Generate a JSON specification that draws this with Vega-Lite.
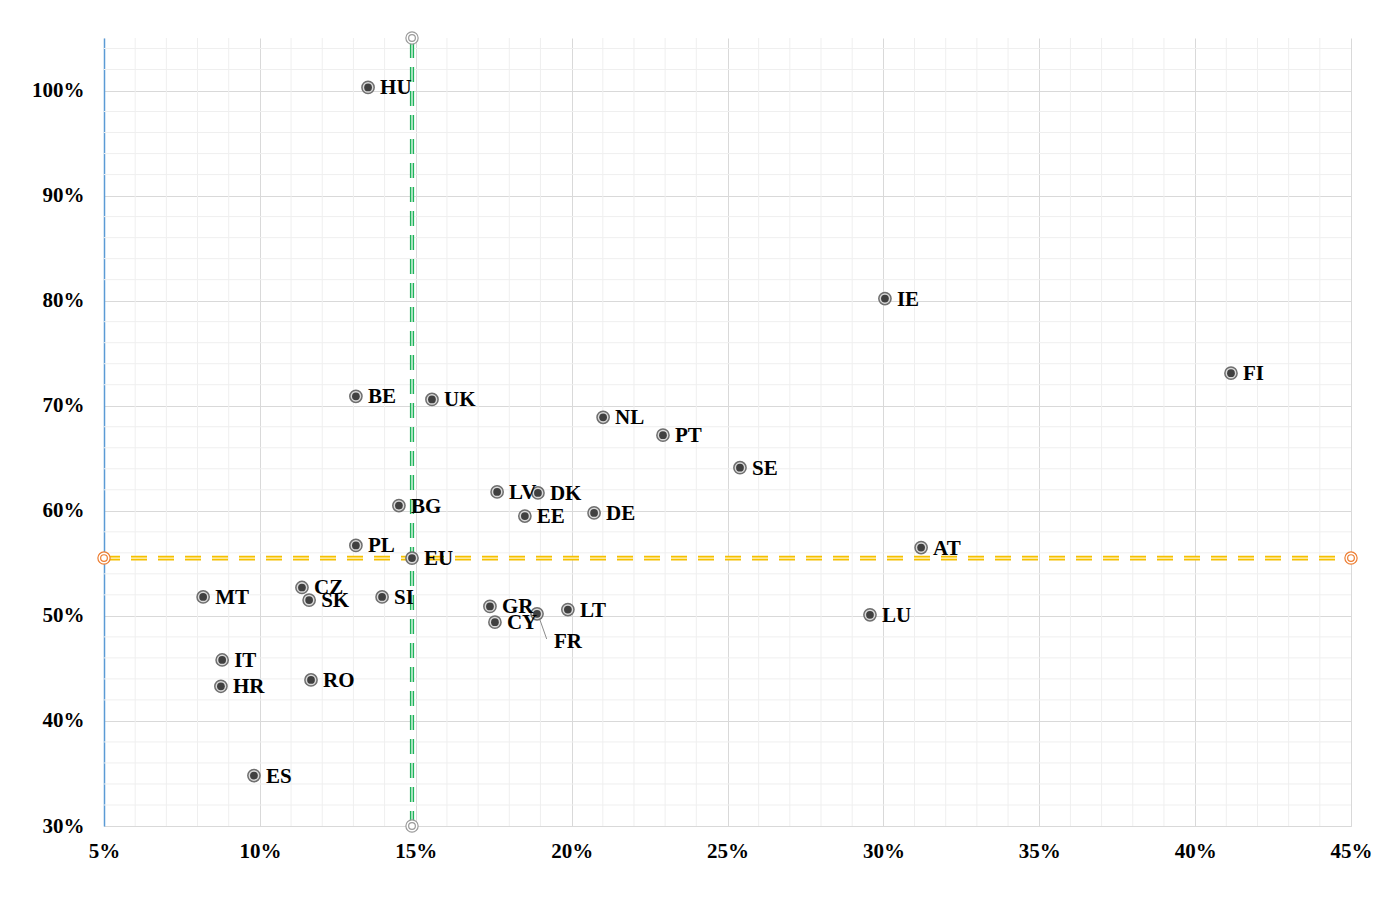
{
  "$schema": "https://vega.github.io/schema/vega-lite/v6.json",
  "width": 1247,
  "height": 788,
  "autosize": "none",
  "padding": {"left": 104, "top": 38, "right": 35, "bottom": 82},
  "background": "white",
  "datasets": {
    "countries": [
      {"c": "HU", "x": 13.47, "y": 100.3},
      {"c": "IE", "x": 30.05, "y": 80.2},
      {"c": "FI", "x": 41.15, "y": 73.1},
      {"c": "BE", "x": 13.08, "y": 70.9},
      {"c": "UK", "x": 15.52, "y": 70.6},
      {"c": "NL", "x": 21.01, "y": 68.9},
      {"c": "PT", "x": 22.93, "y": 67.2},
      {"c": "SE", "x": 25.4, "y": 64.1},
      {"c": "LV", "x": 17.61, "y": 61.8},
      {"c": "DK", "x": 18.92, "y": 61.7},
      {"c": "BG", "x": 14.46, "y": 60.5},
      {"c": "EE", "x": 18.5, "y": 59.5},
      {"c": "DE", "x": 20.72, "y": 59.8},
      {"c": "PL", "x": 13.08, "y": 56.7},
      {"c": "EU", "x": 14.88, "y": 55.5},
      {"c": "AT", "x": 31.21, "y": 56.5},
      {"c": "CZ", "x": 11.35, "y": 52.7},
      {"c": "MT", "x": 8.18, "y": 51.8},
      {"c": "SK", "x": 11.58, "y": 51.5},
      {"c": "SI", "x": 13.92, "y": 51.8},
      {"c": "GR", "x": 17.38, "y": 50.9},
      {"c": "FR", "x": 18.89, "y": 50.2},
      {"c": "CY", "x": 17.54, "y": 49.4},
      {"c": "LT", "x": 19.88, "y": 50.6},
      {"c": "LU", "x": 29.57, "y": 50.1},
      {"c": "IT", "x": 8.79, "y": 45.8},
      {"c": "HR", "x": 8.75, "y": 43.3},
      {"c": "RO", "x": 11.64, "y": 43.9},
      {"c": "ES", "x": 9.81, "y": 34.8}
    ],
    "xminor": [
      {"v": 6}, {"v": 7}, {"v": 8}, {"v": 9}, {"v": 11}, {"v": 12}, {"v": 13}, {"v": 14},
      {"v": 16}, {"v": 17}, {"v": 18}, {"v": 19}, {"v": 21}, {"v": 22}, {"v": 23}, {"v": 24},
      {"v": 26}, {"v": 27}, {"v": 28}, {"v": 29}, {"v": 31}, {"v": 32}, {"v": 33}, {"v": 34},
      {"v": 36}, {"v": 37}, {"v": 38}, {"v": 39}, {"v": 41}, {"v": 42}, {"v": 43}, {"v": 44}
    ],
    "yminor": [
      {"v": 32}, {"v": 34}, {"v": 36}, {"v": 38}, {"v": 42}, {"v": 44}, {"v": 46}, {"v": 48},
      {"v": 52}, {"v": 54}, {"v": 56}, {"v": 58}, {"v": 62}, {"v": 64}, {"v": 66}, {"v": 68},
      {"v": 72}, {"v": 74}, {"v": 76}, {"v": 78}, {"v": 82}, {"v": 84}, {"v": 86}, {"v": 88},
      {"v": 92}, {"v": 94}, {"v": 96}, {"v": 98}, {"v": 102}, {"v": 104}
    ],
    "vline": [{"x": 14.88, "y": 30, "y2": 105}],
    "hline": [{"y": 55.5, "x": 5, "x2": 45}],
    "vends": [{"x": 14.88, "y": 30}, {"x": 14.88, "y": 105}],
    "hends": [{"x": 5, "y": 55.5}, {"x": 45, "y": 55.5}],
    "leader": [{"x": 18.95, "y": 49.9, "x2": 19.2, "y2": 47.8}]
  },
  "layer": [
    {
      "data": {"name": "xminor"},
      "mark": {"type": "rule", "color": "#efefef", "strokeWidth": 1},
      "encoding": {
        "x": {"field": "v", "type": "quantitative", "scale": {"domain": [5, 45], "nice": false, "zero": false}}
      }
    },
    {
      "data": {"name": "yminor"},
      "mark": {"type": "rule", "color": "#efefef", "strokeWidth": 1},
      "encoding": {
        "y": {"field": "v", "type": "quantitative", "scale": {"domain": [30, 105], "nice": false, "zero": false}}
      }
    },
    {
      "data": {"name": "vline"},
      "mark": {"type": "rule", "color": "#1fb35a", "strokeWidth": 4.2, "strokeDash": [15, 9]},
      "encoding": {
        "x": {"field": "x", "type": "quantitative"},
        "y": {"field": "y", "type": "quantitative"},
        "y2": {"field": "y2"}
      }
    },
    {
      "data": {"name": "vline"},
      "mark": {"type": "rule", "color": "#ffffff", "strokeWidth": 1.2, "strokeDash": [15, 9]},
      "encoding": {
        "x": {"field": "x", "type": "quantitative"},
        "y": {"field": "y", "type": "quantitative"},
        "y2": {"field": "y2"}
      }
    },
    {
      "data": {"name": "hline"},
      "mark": {"type": "rule", "color": "#f5c000", "strokeWidth": 4.8, "strokeDash": [16, 11]},
      "encoding": {
        "y": {"field": "y", "type": "quantitative"},
        "x": {"field": "x", "type": "quantitative"},
        "x2": {"field": "x2"}
      }
    },
    {
      "data": {"name": "hline"},
      "mark": {"type": "rule", "color": "#fff6d0", "strokeWidth": 1.2, "strokeDash": [16, 11]},
      "encoding": {
        "y": {"field": "y", "type": "quantitative"},
        "x": {"field": "x", "type": "quantitative"},
        "x2": {"field": "x2"}
      }
    },
    {
      "data": {"name": "vends"},
      "mark": {"type": "point", "shape": "circle", "size": 150, "filled": true, "fill": "#ffffff", "stroke": "#9a9a9a", "strokeWidth": 1.2, "opacity": 1},
      "encoding": {
        "x": {"field": "x", "type": "quantitative"},
        "y": {"field": "y", "type": "quantitative"}
      }
    },
    {
      "data": {"name": "vends"},
      "mark": {"type": "point", "shape": "circle", "size": 45, "filled": false, "stroke": "#9a9a9a", "strokeWidth": 1.2, "opacity": 1},
      "encoding": {
        "x": {"field": "x", "type": "quantitative"},
        "y": {"field": "y", "type": "quantitative"}
      }
    },
    {
      "data": {"name": "hends"},
      "mark": {"type": "point", "shape": "circle", "size": 150, "filled": true, "fill": "#ffffff", "stroke": "#ed7d31", "strokeWidth": 1.2, "opacity": 1},
      "encoding": {
        "x": {"field": "x", "type": "quantitative"},
        "y": {"field": "y", "type": "quantitative"}
      }
    },
    {
      "data": {"name": "hends"},
      "mark": {"type": "point", "shape": "circle", "size": 45, "filled": false, "stroke": "#ed7d31", "strokeWidth": 1.2, "opacity": 1},
      "encoding": {
        "x": {"field": "x", "type": "quantitative"},
        "y": {"field": "y", "type": "quantitative"}
      }
    },
    {
      "data": {"name": "leader"},
      "mark": {"type": "rule", "color": "#8c8c8c", "strokeWidth": 1},
      "encoding": {
        "x": {"field": "x", "type": "quantitative"},
        "y": {"field": "y", "type": "quantitative"},
        "x2": {"field": "x2"},
        "y2": {"field": "y2"}
      }
    },
    {
      "data": {"name": "countries"},
      "mark": {"type": "point", "shape": "circle", "size": 150, "filled": true, "fill": "#d9d9d9", "stroke": "#6f6f6f", "strokeWidth": 1.5, "opacity": 1},
      "encoding": {
        "x": {
          "field": "x",
          "type": "quantitative",
          "axis": {
            "values": [5, 10, 15, 20, 25, 30, 35, 40, 45],
            "labelExpr": "datum.value + '%'",
            "title": null,
            "grid": true,
            "gridColor": "#d9d9d9",
            "ticks": false,
            "domainColor": "#d9d9d9",
            "labelFlush": false,
            "labelPadding": 14
          }
        },
        "y": {
          "field": "y",
          "type": "quantitative",
          "axis": {
            "values": [30, 40, 50, 60, 70, 80, 90, 100],
            "labelExpr": "datum.value + '%'",
            "title": null,
            "grid": true,
            "gridColor": "#d9d9d9",
            "ticks": false,
            "domainColor": "#5b9bd5",
            "domainWidth": 1.5,
            "labelPadding": 20
          }
        }
      }
    },
    {
      "data": {"name": "countries"},
      "mark": {"type": "point", "shape": "circle", "size": 60, "filled": true, "fill": "#404040", "opacity": 1},
      "encoding": {
        "x": {"field": "x", "type": "quantitative"},
        "y": {"field": "y", "type": "quantitative"}
      }
    },
    {
      "data": {"name": "countries"},
      "transform": [{"filter": "datum.c !== 'FR'"}],
      "mark": {"type": "text", "align": "left", "baseline": "middle", "dx": 12, "dy": 1, "font": "Times New Roman, Liberation Serif, serif", "fontWeight": "bold", "fontSize": 21, "color": "#000000"},
      "encoding": {
        "x": {"field": "x", "type": "quantitative"},
        "y": {"field": "y", "type": "quantitative"},
        "text": {"field": "c"}
      }
    },
    {
      "data": {"name": "countries"},
      "transform": [{"filter": "datum.c === 'FR'"}],
      "mark": {"type": "text", "align": "left", "baseline": "middle", "dx": 17, "dy": 28, "font": "Times New Roman, Liberation Serif, serif", "fontWeight": "bold", "fontSize": 21, "color": "#000000"},
      "encoding": {
        "x": {"field": "x", "type": "quantitative"},
        "y": {"field": "y", "type": "quantitative"},
        "text": {"field": "c"}
      }
    }
  ],
  "config": {
    "view": {"stroke": null},
    "axis": {
      "labelFont": "Times New Roman, Liberation Serif, serif",
      "labelFontWeight": "bold",
      "labelFontSize": 21,
      "labelColor": "#000000"
    }
  }
}
